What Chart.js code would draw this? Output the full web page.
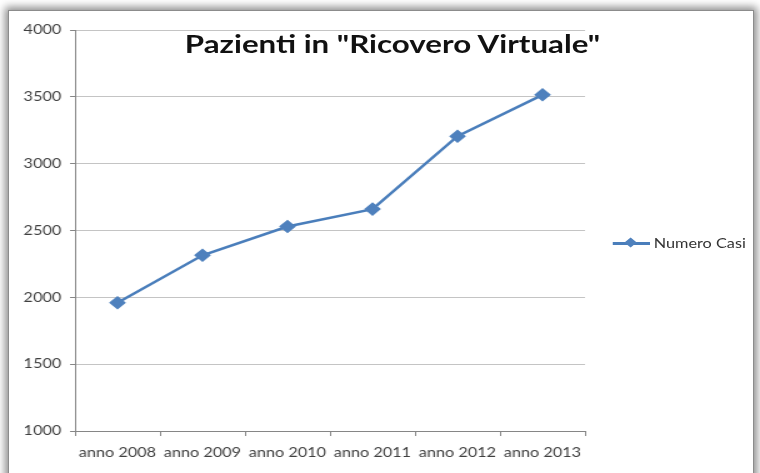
<!DOCTYPE html>
<html>
<head>
<meta charset="utf-8">
<script src="https://cdn.jsdelivr.net/npm/chart.js@4"></script>
<style>
    html, body { margin: 0; padding: 0; background: #fff; }
    body { width: 760px; height: 473px; overflow: hidden; position: relative; }
    .frame {
        position: absolute; left: 8px; top: 10px; width: 744px; height: 480px;
        border: 1px solid #8c8c8c; background: #fff;
        box-shadow: 0 0 8px 3px rgba(0, 0, 0, 0.45);
    }
    /* the original picture is stretched sideways, so the whole chart is too */
    .wrap {
        position: absolute; left: 0; top: 0; width: 608px; height: 473px;
        transform: scaleX(1.25); transform-origin: 0 0;
    }
    .title {
        position: absolute; left: 0; width: 628px; top: 28px; text-align: center;
        font: bold 25px Lato, sans-serif; color: #111; white-space: nowrap;
    }
    .legend {
        position: absolute; left: 490px; top: 234px; height: 18px;
        font: 13px Lato, sans-serif; color: #333; white-space: nowrap;
    }
    .legend .mark { position: absolute; left: 0; top: 8px; width: 30px; height: 2.5px; background: #4A7EBB; }
    .legend .mark::after {
        content: ''; position: absolute; left: 11px; top: -3px; width: 7px; height: 7px;
        background: #4F81BD; transform: rotate(45deg);
    }
    .legend .txt { position: absolute; left: 33px; top: 0; line-height: 18px; }
</style>
</head>
<body>
<div class="frame"></div>
<div class="wrap">
    <canvas id="myChart"></canvas>
    <div class="title">Pazienti in "Ricovero Virtuale"</div>
    <div class="legend"><span class="mark"></span><span class="txt">Numero Casi</span></div>
</div>
<script>
const categories = ['anno 2008', 'anno 2009', 'anno 2010', 'anno 2011', 'anno 2012', 'anno 2013'];
const numeroCasi = [1960, 2315, 2530, 2660, 3205, 3515];
const yTicks = [1000, 1500, 2000, 2500, 3000, 3500, 4000];

const axisColor = '#868686';
const tickFont = { family: 'Lato', size: 13 };

var ctx = document.getElementById('myChart').getContext('2d');
var myChart = new Chart(ctx, {
    type: 'line',
    data: {
        labels: categories,
        datasets: [{
            label: 'Numero Casi',
            data: numeroCasi,
            borderColor: '#4A7EBB',
            borderWidth: 2.5,
            backgroundColor: '#4F81BD',
            pointStyle: 'rectRot',
            pointRadius: 5,
            pointBackgroundColor: '#4F81BD',
            pointBorderColor: '#4F81BD',
            tension: 0,
            fill: false
        }]
    },
    options: {
        responsive: true,
        maintainAspectRatio: false,
        animation: false,
        layout: {
            padding: { left: 0, right: 140, top: 30, bottom: 0 }
        },
        scales: {
            x: {
                offset: true,
                grid: {
                    offset: true,
                    drawOnChartArea: false,
                    drawTicks: true,
                    tickLength: 5,
                    color: axisColor
                },
                border: { color: axisColor },
                ticks: { font: tickFont, color: '#404040', padding: 9, maxRotation: 0, autoSkip: false },
                afterFit: function(scale) { scale.height = 42; }
            },
            y: {
                min: yTicks[0],
                max: yTicks[yTicks.length - 1],
                afterBuildTicks: function(scale) {
                    scale.ticks = yTicks.map(v => ({ value: v }));
                },
                grid: { color: '#c4c4c4', tickColor: axisColor, tickLength: 4 },
                border: { color: axisColor },
                ticks: {
                    font: tickFont, color: '#404040', padding: 7,
                    callback: function(value) { return String(value); }
                },
                afterFit: function(scale) { scale.width = 60; }
            }
        },
        plugins: {
            legend: { display: false },
            title: { display: false },
            tooltip: { enabled: false }
        }
    }
});
</script>
</body>
</html>
